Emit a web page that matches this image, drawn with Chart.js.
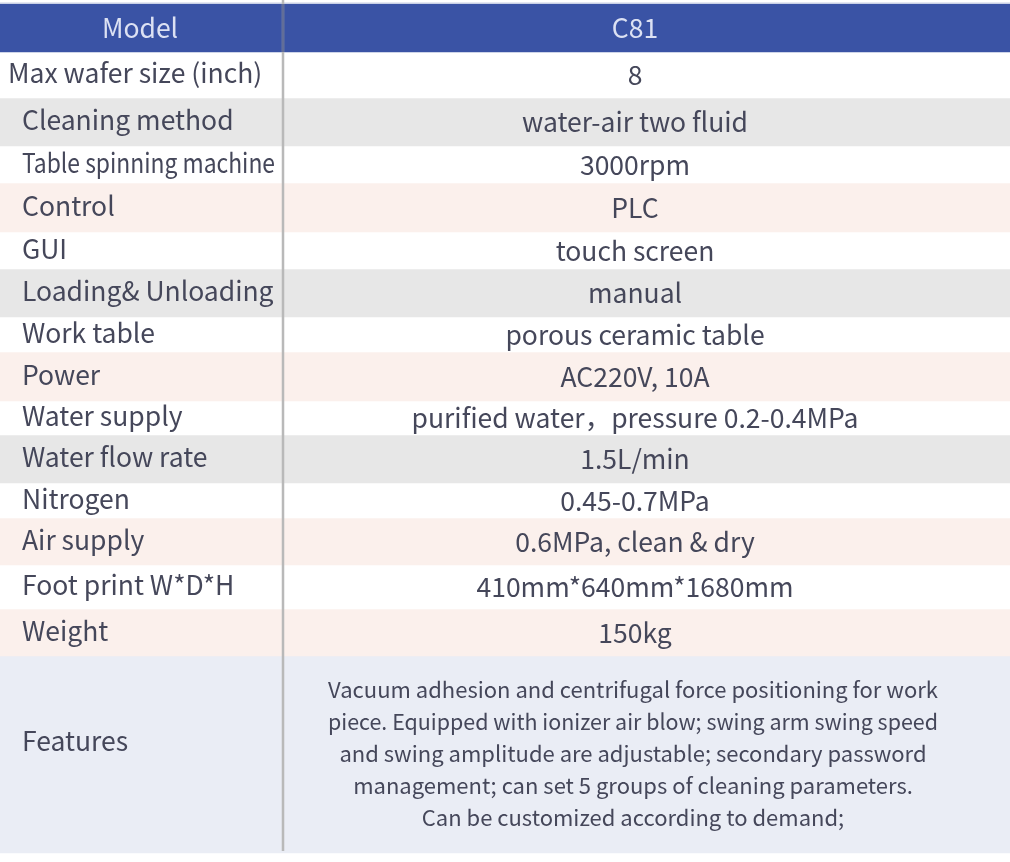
<!DOCTYPE html>
<html>
<head>
<meta charset="utf-8">
<script src="https://cdn.jsdelivr.net/npm/chart.js@4"></script>
<style>
  html, body { margin: 0; padding: 0; background: #ffffff; }
  #wrap { width: 1010px; height: 862px; }
</style>
</head>
<body>
<div id="wrap"><canvas id="specCanvas" width="1010" height="862"></canvas></div>
<script>
// table content
var params = ['Model', 'Max wafer size (inch)', 'Cleaning method', 'Table spinning machine', 'Control', 'GUI',
    'Loading& Unloading', 'Work table', 'Power', 'Water supply', 'Water flow rate', 'Nitrogen',
    'Air supply', 'Foot print W*D*H', 'Weight', 'Features'];
var specs = ['C81', '8', 'water-air two fluid', '3000rpm', 'PLC', 'touch screen', 'manual',
    'porous ceramic table', 'AC220V, 10A', 'purified water\uFF0Cpressure 0.2-0.4MPa', '1.5L/min',
    '0.45-0.7MPa', '0.6MPa, clean & dry', '410mm*640mm*1680mm', '150kg', ''];
var features = ['Vacuum adhesion and centrifugal force positioning for work',
    'piece. Equipped with ionizer air blow; swing arm swing speed',
    'and swing amplitude are adjustable; secondary password',
    'management; can set 5 groups of cleaning parameters.',
    'Can be customized according to demand;'];

// layout (row heights in px, row fills)
var rowHeights = [48, 46, 48, 37, 49, 37, 48, 35, 49, 34, 48, 35, 47, 44, 47, 197];
var rowFills = ['#3a53a5', '#ffffff', '#e7e7e7', '#ffffff', '#fbf0ec', '#ffffff', '#e7e7e7', '#ffffff',
    '#fbf0ec', '#ffffff', '#e7e7e7', '#ffffff', '#fbf0ec', '#ffffff', '#fbf0ec', '#eaedf5'];
var splitX = 283, labelX = 22, valueX = 635;
var font = '"Noto Sans CJK SC", "Noto Sans", sans-serif';
var ink = '#45475a';

var datasets = params.map(function (p, i) {
    return {
        label: p,
        data: [rowHeights[i]],
        backgroundColor: rowFills[i],
        borderWidth: 0,
        stack: 'rows',
        barPercentage: 1,
        categoryPercentage: 1
    };
});

var tableText = {
    id: 'tableText',
    afterDatasetsDraw: function (chart) {
        var ctx = chart.ctx;
        var col = chart.scales.col;
        var area = chart.chartArea;
        var sx = col.getPixelForValue(splitX);
        ctx.save();
        // thin line above header
        ctx.fillStyle = '#c9d0e6';
        ctx.fillRect(area.left, chart.scales.y.getPixelForValue(0) - 1.5, area.right - area.left, 1.5);
        // column divider
        ctx.strokeStyle = '#b9b9b9';
        ctx.lineWidth = 2.5;
        ctx.beginPath();
        ctx.moveTo(sx, 0);
        ctx.lineTo(sx, chart.scales.y.getPixelForValue(847));
        ctx.stroke();
        ctx.strokeStyle = 'rgba(40,60,130,0.6)';
        var h = chart.getDatasetMeta(0).data[0];
        ctx.beginPath();
        ctx.moveTo(sx, Math.min(h.y, h.base));
        ctx.lineTo(sx, Math.max(h.y, h.base));
        ctx.stroke();

        ctx.textBaseline = 'middle';
        params.forEach(function (p, i) {
            var el = chart.getDatasetMeta(i).data[0];
            var cy = (el.y + el.base) / 2;
            if (i === 0) {
                ctx.fillStyle = '#dce1f3';
                ctx.font = '26.5px ' + font;
                ctx.textAlign = 'center';
                ctx.fillText(p, col.getPixelForValue(140), cy, 80);
                ctx.fillText(specs[i], col.getPixelForValue(valueX), cy, 47);
                return;
            }
            var last = i === params.length - 1;
            ctx.fillStyle = ink;
            ctx.font = '26.5px ' + font;
            ctx.textAlign = 'left';
            var lx = i === 1 ? 8 : labelX;
            ctx.fillText(p, col.getPixelForValue(lx), last ? cy - 14 : cy - 2, splitX - lx - 8);
            ctx.textAlign = 'center';
            if (last) {
                ctx.font = '22px ' + font;
                var top = Math.min(el.y, el.base);
                features.forEach(function (line, k) {
                    ctx.fillText(line, col.getPixelForValue(valueX - 2), top + 34 + k * 32, 610);
                });
            } else {
                ctx.fillText(specs[i], col.getPixelForValue(valueX), cy);
            }
        });
        ctx.restore();
    }
};

var chart = new Chart(document.getElementById('specCanvas').getContext('2d'), {
    type: 'bar',
    data: { labels: ['spec'], datasets: datasets },
    options: {
        responsive: false,
        animation: false,
        devicePixelRatio: 1,
        layout: { padding: 0 },
        plugins: { legend: { display: false }, tooltip: { enabled: false } },
        scales: {
            x: { display: false, stacked: true, grid: { display: false } },
            y: { display: false, stacked: true, reverse: true, min: -4, max: 858 },
            col: { type: 'linear', display: false, min: 0, max: 1010, axis: 'x', offset: false }
        }
    },
    plugins: [tableText]
});
</script>
</body>
</html>
